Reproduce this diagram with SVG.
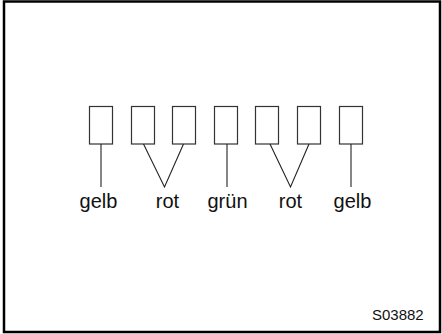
<svg xmlns="http://www.w3.org/2000/svg" width="442" height="334" viewBox="0 0 442 334">
<style>
.frame{fill:#fff;stroke:#000;stroke-width:2.5}
.pin{fill:#fff;stroke:#333;stroke-width:1.2}
.wire{fill:none;stroke:#222;stroke-width:1.1}
.lbl{font-family:"Liberation Sans",Arial,sans-serif;font-size:20px;fill:#111;text-anchor:middle}
.code{font-family:"Liberation Sans",Arial,sans-serif;font-size:15px;fill:#111}
</style>
<rect class="frame" x="4" y="1.5" width="436" height="330.5"/>
<g id="pin1"><rect class="pin" x="89.5" y="106.5" width="23" height="37.5"/></g>
<g id="pin2"><rect class="pin" x="131.5" y="106.5" width="23" height="37.5"/></g>
<g id="pin3"><rect class="pin" x="172.5" y="106.5" width="23" height="37.5"/></g>
<g id="pin4"><rect class="pin" x="214.5" y="106.5" width="23" height="37.5"/></g>
<g id="pin5"><rect class="pin" x="255.5" y="106.5" width="23" height="37.5"/></g>
<g id="pin6"><rect class="pin" x="297.5" y="106.5" width="23" height="37.5"/></g>
<g id="pin7"><rect class="pin" x="339.5" y="106.5" width="23" height="37.5"/></g>
<g id="connectors">
<line class="wire" x1="101" y1="144" x2="101" y2="187"/>
<polyline class="wire" points="143.5,144 164.5,187 183.5,144"/>
<line class="wire" x1="227" y1="144" x2="227" y2="187"/>
<polyline class="wire" points="270,144 290.5,187 309,144"/>
<line class="wire" x1="351" y1="144" x2="351" y2="187"/>
</g>
<g id="labels">
<text class="lbl" x="98.5" y="207.5">gelb</text>
<text class="lbl" x="167.5" y="207.5">rot</text>
<text class="lbl" x="227.5" y="207.5">grün</text>
<text class="lbl" x="290.5" y="207.5">rot</text>
<text class="lbl" x="352.5" y="207.5">gelb</text>
</g>
<text class="code" x="372" y="319.5">S03882</text>
</svg>
